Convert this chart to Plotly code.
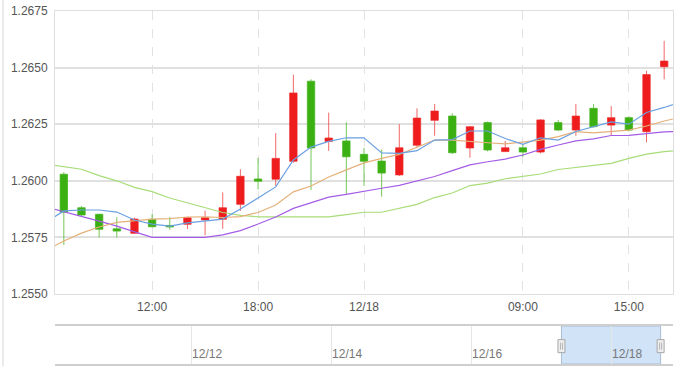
import pandas as pd
import plotly.graph_objects as go

# ---------------- data ----------------
times = [t.strftime("%Y-%m-%d %H:%M") for t in pd.date_range("2023-12-17 07:00", periods=35, freq="h")]
ma_times = [t.strftime("%Y-%m-%d %H:%M") for t in pd.date_range("2023-12-17 06:00", periods=37, freq="h")]

open_ = [1.26029, 1.25881, 1.25852, 1.25788, 1.25768, 1.25830, 1.25803, 1.25808, 1.25827, 1.25830,
         1.25896, 1.26008, 1.26007, 1.26086, 1.26440, 1.26174, 1.26176, 1.26117, 1.26087, 1.26026,
         1.26157, 1.26267, 1.26286, 1.26145, 1.26257, 1.26129, 1.26146, 1.26127, 1.26257, 1.26224,
         1.26320, 1.26246, 1.26279, 1.26217, 1.26504]
high = [1.26038, 1.25889, 1.25855, 1.25839, 1.25837, 1.25853, 1.25840, 1.25840, 1.25868, 1.25949,
        1.26051, 1.26101, 1.26211, 1.26469, 1.26448, 1.26301, 1.26258, 1.26146, 1.26139, 1.26250,
        1.26320, 1.26339, 1.26298, 1.26242, 1.26262, 1.26176, 1.26161, 1.26272, 1.26269, 1.26339,
        1.26339, 1.26330, 1.26285, 1.26486, 1.26618]
low = [1.25716, 1.25845, 1.25750, 1.25750, 1.25765, 1.25795, 1.25783, 1.25787, 1.25759, 1.25788,
       1.25867, 1.25962, 1.25978, 1.26080, 1.25960, 1.26132, 1.25942, 1.25978, 1.25930, 1.26021,
       1.26148, 1.26199, 1.26118, 1.26102, 1.26130, 1.26127, 1.26106, 1.26121, 1.26220, 1.26199,
       1.26235, 1.26199, 1.26218, 1.26170, 1.26448]
close = [1.25861, 1.25849, 1.25786, 1.25778, 1.25831, 1.25797, 1.25796, 1.25837, 1.25837, 1.25881,
         1.26020, 1.25998, 1.26099, 1.26388, 1.26145, 1.26189, 1.26106, 1.26086, 1.26034, 1.26146,
         1.26277, 1.26308, 1.26124, 1.26239, 1.26136, 1.26146, 1.26127, 1.26269, 1.26224, 1.26286,
         1.26239, 1.26279, 1.26224, 1.26469, 1.26529]

ma5 = [1.25818, 1.25867, 1.25871, 1.25871, 1.25862, 1.25827, 1.25809, 1.25800, 1.25814, 1.25822,
       1.25831, 1.25875, 1.25924, 1.25973, 1.26092, 1.26149, 1.26174, 1.26190, 1.26190, 1.26123,
       1.26121, 1.26133, 1.26180, 1.26182, 1.26220, 1.26220, 1.26187, 1.26161, 1.26190, 1.26180,
       1.26218, 1.26238, 1.26260, 1.26250, 1.26302, 1.26324, 1.26348]
ma10 = [1.25694, 1.25734, 1.25769, 1.25796, 1.25816, 1.25825, 1.25831, 1.25833, 1.25840, 1.25841,
        1.25838, 1.25842, 1.25860, 1.25893, 1.25951, 1.25977, 1.26017, 1.26048, 1.26079, 1.26099,
        1.26117, 1.26148, 1.26180, 1.26180, 1.26173, 1.26168, 1.26163, 1.26171, 1.26180, 1.26195,
        1.26217, 1.26212, 1.26217, 1.26224, 1.26242, 1.26264, 1.26282]
ma20 = [1.25884, 1.25864, 1.25845, 1.25822, 1.25800, 1.25774, 1.25750, 1.25750, 1.25750, 1.25750,
        1.25761, 1.25780, 1.25809, 1.25840, 1.25878, 1.25902, 1.25928, 1.25940, 1.25955, 1.25967,
        1.25980, 1.25999, 1.26019, 1.26045, 1.26070, 1.26084, 1.26096, 1.26114, 1.26139, 1.26158,
        1.26176, 1.26185, 1.26200, 1.26201, 1.26209, 1.26216, 1.26219]
ma30 = [1.26074, 1.26063, 1.26051, 1.26023, 1.26000, 1.25971, 1.25952, 1.25924, 1.25902, 1.25881,
        1.25860, 1.25847, 1.25841, 1.25841, 1.25841, 1.25841, 1.25841, 1.25851, 1.25861, 1.25861,
        1.25878, 1.25896, 1.25926, 1.25946, 1.25979, 1.25990, 1.26009, 1.26020, 1.26030, 1.26050,
        1.26059, 1.26067, 1.26077, 1.26099, 1.26118, 1.26129, 1.26136]

main_tick_vals = ["2023-12-17 12:00", "2023-12-17 18:00", "2023-12-18 00:00", "2023-12-18 09:00", "2023-12-18 15:00"]
main_tick_text = ["12:00", "18:00", "12/18", "09:00", "15:00"]
y_ticks = [1.2550, 1.2575, 1.2600, 1.2625, 1.2650, 1.2675]

nav_range = ["2023-12-10 01:20", "2023-12-18 21:15"]
nav_tick_vals = ["2023-12-12", "2023-12-14", "2023-12-16", "2023-12-18"]
nav_tick_text = ["12/12", "12/14", "12/16", "12/18"]

# ---------------- figure ----------------
RED = "#ee1c1c"
GREEN = "#3bb012"
FONT = "Liberation Sans, Arial, sans-serif"
TXT = "#555555"

fig = go.Figure()
fig.add_trace(go.Candlestick(
    x=times, open=open_, high=high, low=low, close=close,
    increasing=dict(fillcolor=RED, line=dict(color="rgba(238,40,40,0.7)", width=1)),
    decreasing=dict(fillcolor=GREEN, line=dict(color="rgba(70,180,30,0.75)", width=1)),
    whiskerwidth=0, showlegend=False, hoverinfo="skip",
))
for vals, col in [(ma30, "#a8dc78"), (ma20, "#a45ce6"), (ma10, "#e4b07a"), (ma5, "#6aa0e2")]:
    fig.add_trace(go.Scatter(x=ma_times, y=vals, mode="lines",
                             line=dict(color=col, width=1.2), showlegend=False, hoverinfo="skip"))

# empty trace to instantiate navigator subplot
fig.add_trace(go.Scatter(x=[], y=[], xaxis="x2", yaxis="y2", showlegend=False))

W, H = 678, 366
L, R, T, B = 55, 5, 11, 0
ph = H - T - B
main_bottom = (H - 294) / ph
nav_top = (H - 326) / ph
nav_bottom = (H - 364) / ph

shapes = [
    # outer container border at left
    dict(type="line", xref="paper", yref="paper", x0=(3 - L) / (W - L - R), x1=(3 - L) / (W - L - R),
         y0=-0.02, y1=1.05, line=dict(color="#d6d6d6", width=1)),
    # navigator selection window
    dict(type="rect", xref="x2", yref="y2", x0=times[0], x1=times[-1], y0=0, y1=1,
         fillcolor="rgba(190,215,243,0.7)", line=dict(color="#a9bcd3", width=1), layer="below"),
]
for anchor in (times[0], times[-1]):
    shapes.append(dict(type="rect", xref="x2", yref="y2", xsizemode="pixel", ysizemode="pixel",
                       xanchor=anchor, yanchor=0.47, x0=-3.5, x1=3.5, y0=-6.5, y1=6.5,
                       fillcolor="#eeeeee", line=dict(color="#a8a8a8", width=1)))
    for dx in (-1, 1):
        shapes.append(dict(type="line", xref="x2", yref="y2", xsizemode="pixel", ysizemode="pixel",
                           xanchor=anchor, yanchor=0.47, x0=dx, x1=dx, y0=-3.5, y1=3.5,
                           line=dict(color="#b5b5b5", width=1)))

fig.update_layout(
    width=W, height=H,
    margin=dict(l=L, r=R, t=T, b=B, autoexpand=False),
    paper_bgcolor="white", plot_bgcolor="white",
    font=dict(family=FONT, size=12, color=TXT),
    boxgap=0.4,
    xaxis=dict(
        type="date", domain=[0, 1], automargin=False,
        range=["2023-12-17 06:30", "2023-12-18 17:30"],
        rangeslider=dict(visible=False),
        tickmode="array", tickvals=main_tick_vals, ticktext=main_tick_text,
        showgrid=True, gridcolor="#e2e2e2", gridwidth=1, griddash="dash",
        showline=True, linecolor="#dedede", linewidth=1, mirror=True,
        ticks="", ticklabelstandoff=2, zeroline=False,
        tickfont=dict(family=FONT, size=12, color=TXT),
    ),
    yaxis=dict(
        domain=[main_bottom, 1], automargin=False,
        range=[1.2550, 1.2675],
        tickmode="array", tickvals=y_ticks, tickformat=".4f",
        showgrid=True, gridcolor="#e0e0e0", gridwidth=2,
        showline=True, linecolor="#dedede", linewidth=1, mirror=True,
        ticks="", ticklabelstandoff=4, zeroline=False,
        tickfont=dict(family=FONT, size=12, color=TXT),
    ),
    xaxis2=dict(
        type="date", anchor="y2", domain=[0, 1], automargin=False,
        range=nav_range,
        tickmode="array", tickvals=nav_tick_vals, ticktext=nav_tick_text,
        ticklabelposition="inside right",
        showgrid=True, gridcolor="#e6e6e6", gridwidth=1,
        showline=True, linecolor="#cfcfcf", linewidth=2, mirror=True,
        ticks="", zeroline=False,
        tickfont=dict(family=FONT, size=12, color="#777777"),
    ),
    yaxis2=dict(
        anchor="x2", domain=[nav_bottom, nav_top], range=[0, 1], automargin=False,
        showgrid=False, showticklabels=False, showline=False, zeroline=False,
    ),
    shapes=shapes,
)

fig.write_html("out.html", config={"displayModeBar": False},
               post_script="document.body.style.margin='0';document.body.style.overflow='hidden';")
